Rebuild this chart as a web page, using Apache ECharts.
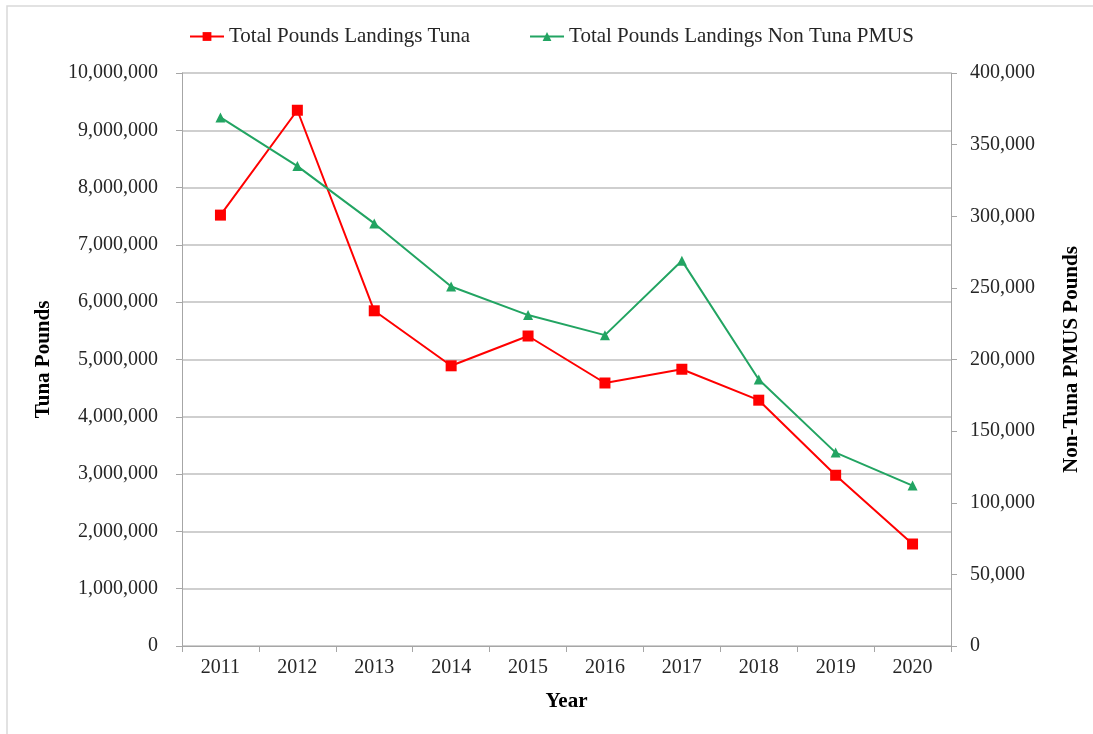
<!DOCTYPE html>
<html>
<head>
<meta charset="utf-8">
<script src="https://cdn.jsdelivr.net/npm/echarts@6/dist/echarts.min.js"></script>
<style>
  html, body { margin: 0; padding: 0; background: #fff; }
  #chart { width: 1093px; height: 734px; }
</style>
</head>
<body>
<div id="chart"></div>
<script>
// values
const years = ['2011', '2012', '2013', '2014', '2015', '2016', '2017', '2018', '2019', '2020'];
const tunaPounds = [7520000, 9350000, 5850000, 4890000, 5410000, 4590000, 4830000, 4290000, 2980000, 1780000];
const nonTunaPounds = [369000, 335000, 295000, 251000, 231000, 217000, 269000, 186000, 135000, 112000];

const serif = '"Liberation Serif", "Times New Roman", serif';
const axisGrey = '#a6a6a6';

function fmt(v) {
    return Number(v).toLocaleString('en-US');
}

function getChartOption() {
    const option = {
        animation: false,
        textStyle: { fontFamily: serif },
        graphic: [
            {
                type: 'rect',
                shape: { x: 7, y: 6, width: 1200, height: 800 },
                style: { fill: 'none', stroke: '#d9d9d9', lineWidth: 1.5 },
                silent: true,
            },
        ],
        legend: {
            top: 21,
            left: 184,
            itemGap: 59,
            itemWidth: 34,
            itemHeight: 11,
            textStyle: { fontFamily: serif, fontSize: 21, color: '#262626' },
            data: ['Total Pounds Landings Tuna', 'Total Pounds Landings Non Tuna PMUS'],
        },
        grid: { left: 182, right: 142, top: 73, bottom: 88 },
        xAxis: {
            type: 'category',
            data: years,
            boundaryGap: true,
            name: 'Year',
            nameLocation: 'middle',
            nameGap: 45,
            nameTextStyle: { fontFamily: serif, fontSize: 21, fontWeight: 'bold', color: '#000' },
            axisLine: { lineStyle: { color: axisGrey } },
            axisTick: { show: true, length: 6, lineStyle: { color: axisGrey } },
            axisLabel: { margin: 12, fontFamily: serif, fontSize: 20, color: '#262626' },
        },
        yAxis: [
            {
                type: 'value',
                min: 0,
                max: 10000000,
                interval: 1000000,
                name: 'Tuna Pounds',
                nameLocation: 'middle',
                nameGap: 128,
                nameTextStyle: { fontFamily: serif, fontSize: 21, fontWeight: 'bold', color: '#000' },
                axisLine: { show: true, lineStyle: { color: axisGrey } },
                axisTick: { show: true, length: 6, lineStyle: { color: axisGrey } },
                axisLabel: { margin: 24, fontFamily: serif, fontSize: 20, color: '#262626', formatter: fmt },
                splitLine: { show: true, lineStyle: { color: '#bfbfbf', width: 1.5 } },
            },
            {
                type: 'value',
                min: 0,
                max: 400000,
                interval: 50000,
                name: 'Non-Tuna PMUS Pounds',
                nameLocation: 'middle',
                nameGap: 110,
                nameTextStyle: { fontFamily: serif, fontSize: 21, fontWeight: 'bold', color: '#000' },
                axisLine: { show: true, lineStyle: { color: axisGrey } },
                axisTick: { show: true, length: 6, lineStyle: { color: axisGrey } },
                axisLabel: { margin: 19, fontFamily: serif, fontSize: 20, color: '#262626', formatter: fmt },
                splitLine: { show: false },
            },
        ],
        series: [
            {
                name: 'Total Pounds Landings Tuna',
                type: 'line',
                yAxisIndex: 0,
                data: tunaPounds,
                symbol: 'rect',
                symbolSize: 11,
                lineStyle: { color: '#ff0000', width: 2 },
                itemStyle: { color: '#ff0000' },
            },
            {
                name: 'Total Pounds Landings Non Tuna PMUS',
                type: 'line',
                yAxisIndex: 1,
                data: nonTunaPounds,
                symbol: 'triangle',
                symbolSize: 10,
                lineStyle: { color: '#22a462', width: 2 },
                itemStyle: { color: '#22a462' },
            },
        ],
    };

    return option;
}

const chart = echarts.init(document.getElementById('chart'));
chart.setOption(getChartOption());
</script>
</body>
</html>
